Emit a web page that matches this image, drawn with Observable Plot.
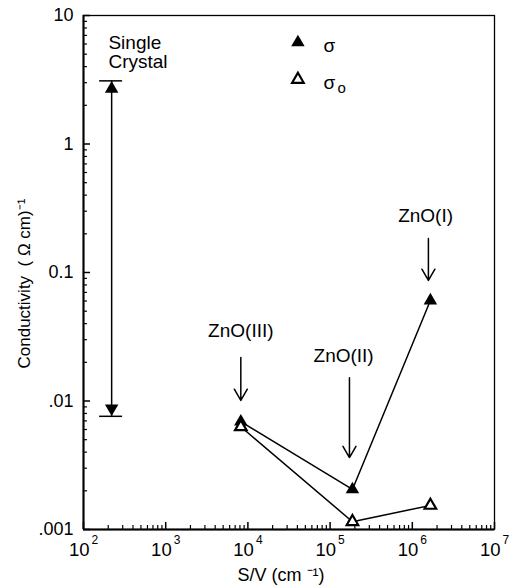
<!DOCTYPE html>
<html><head><meta charset="utf-8">
<script src="https://cdn.jsdelivr.net/npm/d3@7"></script>
<script src="https://cdn.jsdelivr.net/npm/@observablehq/plot@0.6"></script>
<style>body{margin:0;background:#fff} svg{display:block}</style>
</head><body><div id="chart"></div>
<script>
// ---- data ----
const samples = ["ZnO(III)", "ZnO(II)", "ZnO(I)"];
const surfaceToVolume = [8.2e3, 1.87e5, 1.66e6];
const sigma = [0.0069, 0.00205, 0.0605];
const sigma0 = [0.0063, 0.00115, 0.00154];
const singleCrystalSV = 220;
const singleCrystalRange = [3.1, 0.0076];
const xTicks = [1e2, 1e3, 1e4, 1e5, 1e6, 1e7];
const xTickExponents = ["2", "3", "4", "5", "6", "7"];
const yTicks = [10, 1, 0.1, 0.01, 0.001];
const yTickLabels = ["10", "1", "0.1", ".01", ".001"];
// annotation anchors (data coordinates)
const labelX = [8.2e3, 1.46e5, 1.45e6];
const labelY = [0.0354, 0.0226, 0.278];
const arrowX = [8.2e3, 1.72e5, 1.57e6];
const arrowTop = [0.0218, 0.0152, 0.184];
const arrowBottom = [0.0101, 0.00363, 0.0867];
const legendX = 4.06e4, legendTextX = 8.3e4;
const legendY = [6.17, 3.18];
const legendTextY = [5.84, 3.01];

// ---- derived tables ----
const pts = samples.map((s, i) => ({s, x: surfaceToVolume[i], sigma: sigma[i], sigma0: sigma0[i]}));
const labels = samples.map((s, i) => ({s, x: labelX[i], y: labelY[i]}));
const arrows = samples.map((s, i) => ({x: arrowX[i], y1: arrowTop[i], y2: arrowBottom[i]}));
const xMinor = [], yMinor = [];
for (let k = 2; k < 7; k++) for (let m = 2; m < 10; m++) xMinor.push(m * 10 ** k);
for (let k = -3; k < 1; k++) for (let m = 2; m < 10; m++) yMinor.push(+(m * 10 ** k).toPrecision(3));
const xT = xTicks.map((v, i) => ({v, e: xTickExponents[i]}));
const yT = yTicks.map((v, i) => ({v, t: yTickLabels[i]}));

const W = 513, H = 585, mL = 83, mR = 19, mT = 15, mB = 56;
const fw = W - mL - mR, fh = H - mT - mB;
const font = "'Liberation Sans', Arial, Helvetica, sans-serif";

const chart = Plot.plot({
  width: W, height: H,
  marginLeft: mL, marginRight: mR, marginTop: mT, marginBottom: mB,
  style: {fontFamily: font, background: "#fff", color: "#000"},
  x: {type: "log", domain: [1e2, 1e7], axis: null},
  y: {type: "log", domain: [0.001, 10], axis: null},
  marks: [
    Plot.frame({stroke: "#000", strokeWidth: 1.3}),
    Plot.ruleX([1e2], {strokeWidth: 2}),
    Plot.ruleY([0.001], {strokeWidth: 2}),
    // inward ticks
    Plot.tickY(yTicks, {y: d => d, insetRight: fw - 7, strokeWidth: 1.5}),
    Plot.tickY(yMinor, {y: d => d, insetRight: fw - 4, strokeWidth: 1.2}),
    Plot.tickX(xTicks, {x: d => d, insetTop: fh - 7, strokeWidth: 1.5}),
    Plot.tickX(xMinor, {x: d => d, insetTop: fh - 4, strokeWidth: 1.2}),
    // tick labels
    Plot.text(yT, {x: 1e2, y: "v", text: "t", textAnchor: "end", dx: -10, fontSize: 18, letterSpacing: 0.5}),
    Plot.text(xT, {x: "v", y: 0.001, text: () => "10", textAnchor: "end", lineAnchor: "bottom", dx: 6, dy: 26, fontSize: 18.5, letterSpacing: 1}),
    Plot.text(xT, {x: "v", y: 0.001, text: "e", textAnchor: "start", lineAnchor: "bottom", dx: 8, dy: 14, fontSize: 12}),
    // axis titles
    Plot.text(["S/V (cm \u207B\u00B9)"], {text: d => d, frameAnchor: "bottom", textAnchor: "middle", dx: -8, dy: 51, lineAnchor: "bottom", fontSize: 18}),
    Plot.text(["Conductivity  ( \u03A9 cm)\u207B\u00B9"], {text: d => d, y: 0.082, frameAnchor: "left", textAnchor: "middle", dx: -59, rotate: -90, fontSize: 17}),
    // single crystal range
    Plot.ruleX([singleCrystalSV], {y1: singleCrystalRange[0], y2: singleCrystalRange[1], strokeWidth: 1.5}),
    Plot.ruleY(singleCrystalRange, {y: d => d, x1: 157, x2: 299, strokeWidth: 1.5}),
    Plot.dot([singleCrystalRange[0]], {x: singleCrystalSV, y: d => d, symbol: "triangle", r: 5, fill: "#000", dy: 8}),
    Plot.dot([singleCrystalRange[1]], {x: singleCrystalSV, y: d => d, symbol: "triangle", r: 5, fill: "#000", rotate: 180, dy: -8}),
    Plot.text(["Single", "Crystal"], {x: 201, y: [6.17, 4.38], text: d => d, textAnchor: "start", fontSize: 19, letterSpacing: 0.7}),
    // series
    Plot.line(pts, {x: "x", y: "sigma", stroke: "#000", strokeWidth: 1.5}),
    Plot.line(pts, {x: "x", y: "sigma0", stroke: "#000", strokeWidth: 1.5}),
    Plot.dot(pts, {x: "x", y: "sigma", symbol: "triangle", r: 5, fill: "#000"}),
    Plot.dot(pts, {x: "x", y: "sigma0", symbol: "triangle", r: 4.3, fill: "#fff", stroke: "#000", strokeWidth: 2.2}),
    // annotations
    Plot.arrow(arrows, {x: "x", y1: "y1", y2: "y2", headLength: 13, headAngle: 60, strokeWidth: 1.5}),
    Plot.text(labels, {x: "x", y: "y", text: "s", fontSize: 19, letterSpacing: 0.7}),
    // legend
    Plot.dot([0], {x: legendX, y: legendY[0], symbol: "triangle", r: 5, fill: "#000"}),
    Plot.dot([0], {x: legendX, y: legendY[1], symbol: "triangle", r: 4.3, fill: "#fff", stroke: "#000", strokeWidth: 2.2}),
    Plot.text(["\u03C3", "\u03C3"], {x: legendTextX, y: legendTextY, text: d => d, textAnchor: "start", fontSize: 19}),
    Plot.text(["o"], {x: legendTextX, y: legendTextY[1], text: d => d, textAnchor: "start", dx: 14, dy: 6, fontSize: 15})
  ]
});
document.getElementById("chart").appendChild(chart);
</script>
</body></html>
